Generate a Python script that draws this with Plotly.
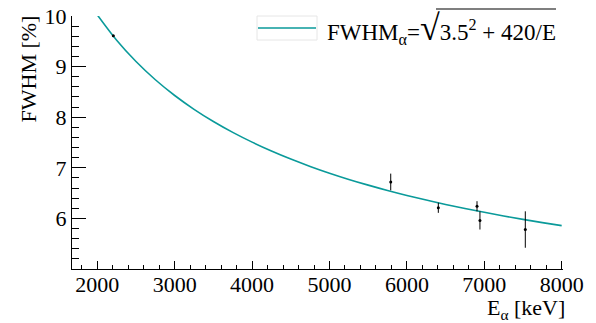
import plotly.graph_objects as go

# Fitted curve (keV, %)
curve_E = [2000, 2250, 2500, 2750, 3000, 3250, 3500, 3750, 4000, 4250, 4500, 4750,
           5000, 5250, 5500, 5750, 6000, 6250, 6500, 6750, 7000, 7250, 7500, 7750, 8000]
curve_fwhm = [10.022, 9.521, 9.100, 8.740, 8.429, 8.156, 7.915, 7.700, 7.507, 7.332,
              7.173, 7.028, 6.894, 6.771, 6.658, 6.552, 6.454, 6.362, 6.276, 6.195,
              6.120, 6.048, 5.981, 5.917, 5.857]

# Measured points
data_E = [2207, 5791, 6406, 6906, 6944, 7530]
data_fwhm = [9.61, 6.72, 6.21, 6.24, 5.96, 5.78]
data_err = [0.0, 0.165, 0.10, 0.10, 0.18, 0.36]

x_ticks = [2000, 3000, 4000, 5000, 6000, 7000, 8000]
y_ticks = [6, 7, 8, 9, 10]

legend_text = ("FWHM<sub>α</sub>=<span style='font-size:36px'>√</span>"
               "3.5<sup>2</sup> + 420/E")

FONT = "Liberation Serif"
TEAL = "#0a9a9a"

fig = go.Figure()
fig.add_trace(go.Scatter(x=curve_E, y=curve_fwhm, mode="lines",
                         line=dict(color=TEAL, width=1.6, shape="spline"),
                         showlegend=False, hoverinfo="skip"))
fig.add_trace(go.Scatter(x=data_E, y=data_fwhm, mode="markers",
                         marker=dict(color="black", size=3),
                         error_y=dict(type="data", array=data_err, color="black",
                                      thickness=1, width=0),
                         showlegend=False))

W, H = 596, 323
ml, mr, mt, mb = 72, 33, 16, 54
pw, ph = W - ml - mr, H - mt - mb

def px(x):
    return (x - ml) / pw

def py(y):
    return (H - mb - y) / ph

fig.update_layout(
    width=W, height=H,
    margin=dict(l=ml, r=mr, t=mt, b=mb, pad=0, autoexpand=False),
    paper_bgcolor="white", plot_bgcolor="white",
    font=dict(family=FONT, size=22, color="black"),
    xaxis=dict(range=[1673, 8017], tickvals=x_ticks,
               ticks="inside", ticklen=8, tickwidth=1, tickcolor="black",
               showline=True, linecolor="black", linewidth=1, showgrid=False,
               zeroline=False, automargin=False, ticklabelstandoff=-4,
               minor=dict(ticks="inside", ticklen=4, dtick=200, tick0=0,
                          tickcolor="black", showgrid=False),
               tickfont=dict(family=FONT, size=22, color="black")),
    yaxis=dict(range=[5.0, 10.0], tickvals=y_ticks,
               ticks="inside", ticklen=14, tickwidth=1, tickcolor="black",
               showline=True, linecolor="black", linewidth=1, showgrid=False,
               zeroline=False, automargin=False,
               minor=dict(ticks="inside", ticklen=7, dtick=0.2, tick0=0,
                          tickcolor="black", showgrid=False),
               tickfont=dict(family=FONT, size=22, color="black")),
    showlegend=False,
)

# Legend box
fig.add_shape(type="rect", xref="paper", yref="paper",
              x0=px(257), x1=px(317), y0=py(40), y1=py(16),
              line=dict(color="#e6e6e6", width=1), fillcolor="white", layer="above")
fig.add_shape(type="line", xref="paper", yref="paper",
              x0=px(258), x1=px(316), y0=py(28), y1=py(28),
              line=dict(color=TEAL, width=1.6), layer="above")
fig.add_annotation(xref="paper", yref="paper", x=px(325), y=py(28),
                   xanchor="left", yanchor="middle", showarrow=False,
                   text=legend_text, font=dict(family=FONT, size=23, color="black"))
# overline of the radical
fig.add_shape(type="line", xref="paper", yref="paper",
              x0=px(436), x1=px(556), y0=py(9), y1=py(9),
              line=dict(color="black", width=1.2), layer="above")

# Axis titles
fig.add_annotation(xref="paper", yref="paper", x=px(567), y=py(309),
                   xanchor="right", yanchor="middle", showarrow=False,
                   text="E<sub>α</sub> [keV]", font=dict(family=FONT, size=22))
fig.add_annotation(xref="paper", yref="paper", x=px(28), y=py(14),
                   xanchor="center", yanchor="top", showarrow=False, textangle=-90,
                   text="FWHM [%]", font=dict(family=FONT, size=22))

fig.write_html("out.html", config={"displayModeBar": False},
               post_script="document.body.style.margin='0';")
